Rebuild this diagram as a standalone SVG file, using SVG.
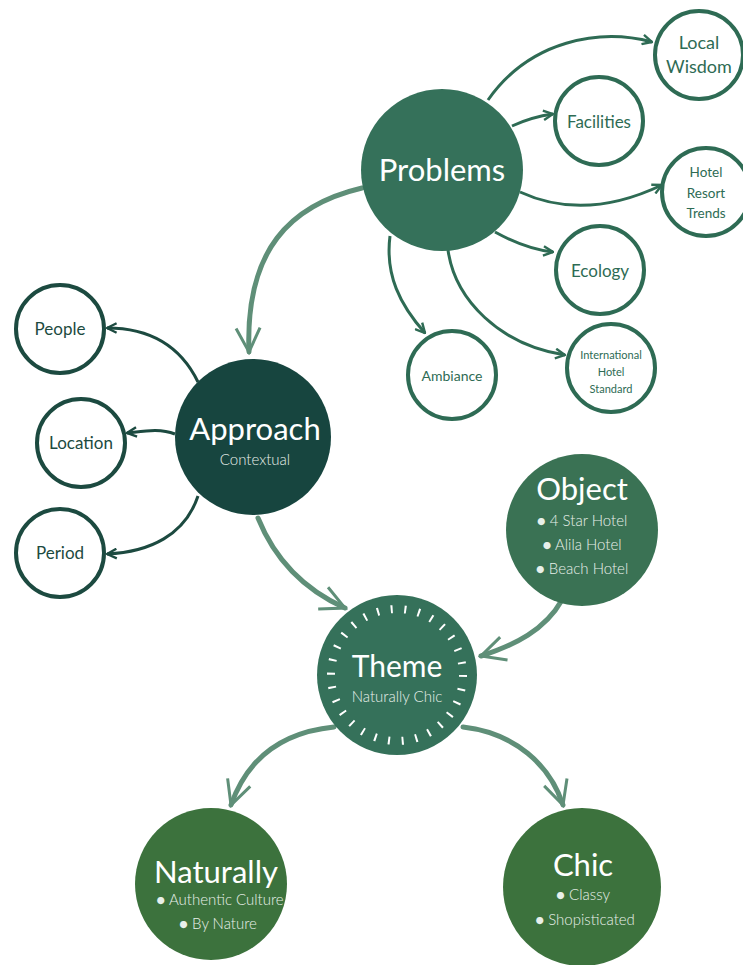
<svg xmlns="http://www.w3.org/2000/svg" width="743" height="965" viewBox="0 0 743 965">
<defs>
<style>
.small{fill:#fff;stroke:#2e6b54;stroke-width:4}
.smallA{fill:#fff;stroke:#1c4a40;stroke-width:4}
.st{font-family:Lato,"Liberation Sans",sans-serif;fill:#2e6b54;text-anchor:middle}
.sta{font-family:Lato,"Liberation Sans",sans-serif;fill:#1c4a40;text-anchor:middle}
.big{font-family:Lato,"Liberation Sans",sans-serif;fill:#fff;text-anchor:middle}
.sub{font-family:Lato,"Liberation Sans",sans-serif;fill:#e8f0ea;text-anchor:middle;font-weight:300}
.thin{fill:none;stroke:#2e6b54;stroke-width:3}
.thinA{fill:none;stroke:#1c4a40;stroke-width:3}
.thick{fill:none;stroke:#5f8f78;stroke-width:5;stroke-linecap:round}
</style>
<marker id="ah" viewBox="0 0 10 10" refX="9" refY="5" markerWidth="4" markerHeight="4" orient="auto" markerUnits="strokeWidth">
<path d="M1,1 L9,5 L1,9" fill="none" stroke="#2e6b54" stroke-width="2"/>
</marker>
<marker id="ahA" viewBox="0 0 10 10" refX="9" refY="5" markerWidth="4" markerHeight="4" orient="auto" markerUnits="strokeWidth">
<path d="M1,1 L9,5 L1,9" fill="none" stroke="#1c4a40" stroke-width="2"/>
</marker>
<marker id="ahB" viewBox="0 0 10 10" refX="9" refY="5" markerWidth="6" markerHeight="6" orient="auto" markerUnits="strokeWidth">
<path d="M1,1 L9,5 L1,9" fill="none" stroke="#5f8f78" stroke-width="1"/>
</marker>
</defs>
<rect width="743" height="965" fill="#fff"/>
<g id="connectors">
<path class="thin" d="M488,100 C530,40 600,28 652,42" marker-end="url(#ah)"/>
<path class="thin" d="M512,126 C525,120 538,116 553,114" marker-end="url(#ah)"/>
<path class="thin" d="M520,192 C570,215 620,205 662,185" marker-end="url(#ah)"/>
<path class="thin" d="M495,232 C515,243 535,250 553,252" marker-end="url(#ah)"/>
<path class="thin" d="M448,250 C455,300 500,345 565,355" marker-end="url(#ah)"/>
<path class="thin" d="M390,236 C385,275 400,305 425,333" marker-end="url(#ah)"/>
<path class="thinA" d="M198,382 C180,345 150,328 107,328" marker-end="url(#ahA)"/>
<path class="thinA" d="M175,434 C160,428 145,431 127,433" marker-end="url(#ahA)"/>
<path class="thinA" d="M198,496 C185,535 150,552 107,554" marker-end="url(#ahA)"/>
<path class="thick" d="M362,188 C290,205 245,250 249,352" marker-end="url(#ahB)"/>
<path class="thick" d="M258,518 C275,560 305,590 345,608" marker-end="url(#ahB)"/>
<path class="thick" d="M562,600 C545,630 515,645 481,656" marker-end="url(#ahB)"/>
<path class="thick" d="M334,727 C275,733 245,765 231,805" marker-end="url(#ahB)"/>
<path class="thick" d="M463,727 C515,733 550,765 563,805" marker-end="url(#ahB)"/>
</g>
<g id="problems">
<circle cx="442" cy="170" r="81" fill="#35715a"/>
<text class="big" x="442" y="181" font-size="31">Problems</text>
</g>
<g id="local-wisdom">
<circle class="small" cx="699" cy="55" r="44"/>
<text class="st" x="699" y="49" font-size="18">Local</text>
<text class="st" x="699" y="73" font-size="18">Wisdom</text>
</g>
<g id="facilities">
<circle class="small" cx="599" cy="121" r="44"/>
<text class="st" x="599" y="128" font-size="17">Facilities</text>
</g>
<g id="hotel-resort-trends">
<circle class="small" cx="706" cy="192" r="44"/>
<text class="st" x="706" y="177" font-size="13.5">Hotel</text>
<text class="st" x="706" y="198" font-size="13.5">Resort</text>
<text class="st" x="706" y="218" font-size="13.5">Trends</text>
</g>
<g id="ecology">
<circle class="small" cx="600" cy="270" r="44"/>
<text class="st" x="600" y="277" font-size="17">Ecology</text>
</g>
<g id="international">
<circle class="small" cx="611" cy="368" r="44"/>
<text class="st" x="611" y="359" font-size="11">International</text>
<text class="st" x="611" y="376" font-size="11">Hotel</text>
<text class="st" x="611" y="393" font-size="11">Standard</text>
</g>
<g id="ambiance">
<circle class="small" cx="452" cy="375" r="44"/>
<text class="st" x="452" y="381" font-size="14">Ambiance</text>
</g>
<g id="approach">
<circle cx="253" cy="437" r="78" fill="#17453f"/>
<text class="big" x="255" y="440" font-size="31">Approach</text>
<text class="sub" x="255" y="465" font-size="15">Contextual</text>
</g>
<g id="people">
<circle class="smallA" cx="60" cy="329" r="44"/>
<text class="sta" x="60" y="335" font-size="17">People</text>
</g>
<g id="location">
<circle class="smallA" cx="81" cy="443" r="44"/>
<text class="sta" x="81" y="449" font-size="17">Location</text>
</g>
<g id="period">
<circle class="smallA" cx="60" cy="553" r="44"/>
<text class="sta" x="60" y="559" font-size="17">Period</text>
</g>
<g id="object">
<circle cx="582" cy="530" r="76" fill="#3a7254"/>
<text class="big" x="582" y="500" font-size="31">Object</text>
<text class="sub" x="582" y="526" font-size="15">● 4 Star Hotel</text>
<text class="sub" x="582" y="550" font-size="15">● Alila Hotel</text>
<text class="sub" x="582" y="574" font-size="15">● Beach Hotel</text>
</g>
<g id="theme">
<circle cx="397" cy="675" r="80" fill="#35715a"/>
<circle cx="397" cy="675" r="66" fill="none" stroke="#fff" stroke-width="8" stroke-dasharray="2 11.823"/>
<text class="big" x="397" y="677" font-size="30">Theme</text>
<text class="sub" x="397" y="702" font-size="15">Naturally Chic</text>
</g>
<g id="naturally">
<circle cx="211" cy="884" r="76" fill="#3c723d"/>
<text class="big" x="216" y="883" font-size="31">Naturally</text>
<text class="sub" x="220" y="905" font-size="15">● Authentic Culture</text>
<text class="sub" x="218" y="929" font-size="15">● By Nature</text>
</g>
<g id="chic">
<circle cx="582" cy="887" r="79" fill="#3c723d"/>
<text class="big" x="583" y="876" font-size="31">Chic</text>
<text class="sub" x="583" y="900" font-size="15">● Classy</text>
<text class="sub" x="585" y="925" font-size="15">● Shopisticated</text>
</g>
</svg>
